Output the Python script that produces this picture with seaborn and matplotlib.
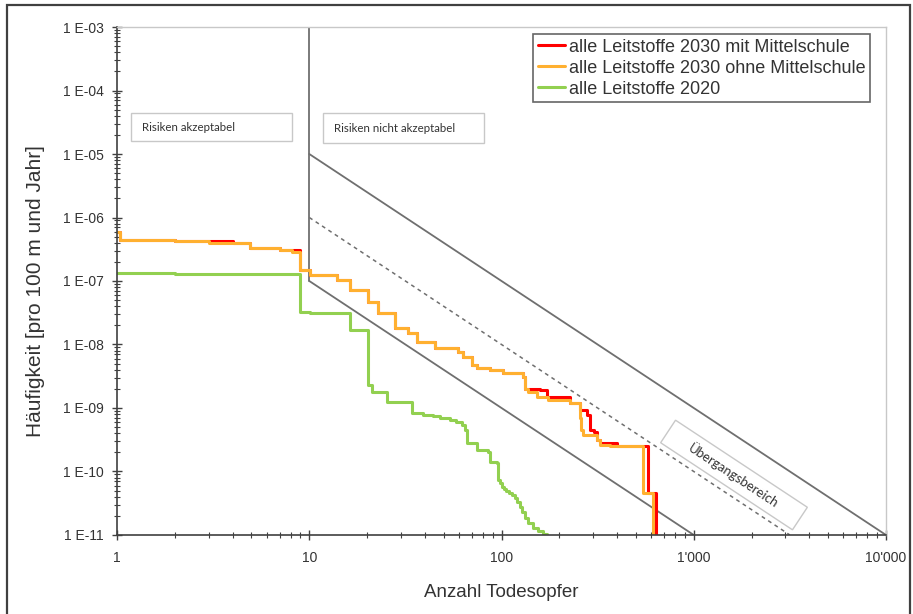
import numpy as np
import seaborn as sns
import matplotlib
matplotlib.use("Agg")
import matplotlib.pyplot as plt
from matplotlib.patches import Rectangle
from matplotlib.transforms import Affine2D
from matplotlib.ticker import LogLocator, NullFormatter

# --- data (steps-post: value holds until next x) ---
RED_X = [1, 1.03, 2.0, 4.0, 4.9, 7.0, 9.0, 10.1, 13.9, 16.3, 20.2, 22.8, 27.9,
         32.6, 36.3, 45.1, 59.4, 63, 70.3, 74.6, 87, 102, 129, 132, 158, 172,
         227, 256, 278, 289, 303, 314, 325, 400, 578, 636]
RED_Y = [6.0e-7, 4.4e-7, 4.2e-7, 3.9e-7, 3.3e-7, 3.1e-7, 1.5e-7, 1.24e-7,
         1.04e-7, 7.2e-8, 4.7e-8, 3.1e-8, 1.82e-8, 1.5e-8, 1.1e-8, 8.8e-9,
         7.6e-9, 6.4e-9, 4.8e-9, 4.3e-9, 4.0e-9, 3.6e-9, 3.1e-9, 2.0e-9,
         1.9e-9, 1.5e-9, 1.2e-9, 9.3e-10, 7.8e-10, 4.5e-10, 4.2e-10, 3.1e-10,
         2.8e-10, 2.5e-10, 4.6e-11, 5e-12]

ORANGE_X = [1, 1.03, 2.0, 3.0, 4.9, 7.0, 8.1, 9.0, 10.1, 13.9, 16.3, 20.2, 22.8,
            27.9, 32.6, 36.3, 45.1, 59.4, 63, 70.3, 74.6, 87, 102, 129, 132,
            137, 153, 175, 227, 256, 260, 265, 314, 325, 367, 545, 614]
ORANGE_Y = [6.0e-7, 4.4e-7, 4.2e-7, 3.9e-7, 3.3e-7, 3.1e-7, 2.9e-7, 1.5e-7,
            1.24e-7, 1.04e-7, 7.2e-8, 4.7e-8, 3.1e-8, 1.82e-8, 1.5e-8, 1.1e-8,
            8.8e-9, 7.6e-9, 6.4e-9, 4.8e-9, 4.3e-9, 4.0e-9, 3.6e-9, 3.1e-9,
            2.0e-9, 1.8e-9, 1.5e-9, 1.35e-9, 1.2e-9, 7.0e-10, 4.5e-10, 3.8e-10,
            3.1e-10, 2.6e-10, 2.5e-10, 4.6e-11, 5e-12]

GREEN_X = [1, 2.0, 3.0, 9.0, 10.1, 16.3, 20.2, 21.1, 25.3, 34.1, 39.1, 44,
           47.9, 54, 58, 62.1, 64.6, 65.9, 74.3, 85.1, 87.2, 94.4, 96.2, 98,
           100, 103, 106, 110, 114, 117.6, 120, 124.8, 128, 132.6, 138, 145.8,
           155, 165, 171.8]
GREEN_Y = [1.35e-7, 1.31e-7, 1.27e-7, 3.29e-8, 3.13e-8, 1.69e-8, 2.3e-9,
           1.8e-9, 1.26e-9, 8.3e-10, 7.8e-10, 7.4e-10, 7.0e-10, 6.4e-10,
           6.0e-10, 5.4e-10, 4.5e-10, 2.8e-10, 2.2e-10, 2.05e-10, 1.43e-10,
           1.35e-10, 7.4e-11, 6.5e-11, 5.8e-11, 5.3e-11, 5.0e-11, 4.6e-11,
           4.2e-11, 3.8e-11, 3.3e-11, 2.8e-11, 2.3e-11, 1.85e-11, 1.55e-11,
           1.3e-11, 1.15e-11, 1.05e-11, 5e-12]

SERIES = ["alle Leitstoffe 2030 mit Mittelschule",
          "alle Leitstoffe 2030 ohne Mittelschule",
          "alle Leitstoffe 2020"]

# limit lines of the F-N diagram
UPPER_X, UPPER_Y = [10, 10000], [1e-5, 1e-11]
MIDDLE_X, MIDDLE_Y = [10, 3162], [1e-6, 1e-11]
LOWER_X, LOWER_Y = [10, 1000], [1e-7, 1e-11]
VERT_X, VERT_Y = [10, 10], [1e-7, 1e-3]

X_TICKS = [1, 10, 100, 1000, 10000]
X_LABELS = ["1", "10", "100", "1'000", "10'000"]
Y_TICKS = [1e-3, 1e-4, 1e-5, 1e-6, 1e-7, 1e-8, 1e-9, 1e-10, 1e-11]
Y_LABELS = ["1 E-03", "1 E-04", "1 E-05", "1 E-06", "1 E-07", "1 E-08",
            "1 E-09", "1 E-10", "1 E-11"]

sns.set_theme(style="white")
plt.rcParams["font.family"] = ["Liberation Sans", "DejaVu Sans"]

fig = plt.figure(figsize=(9.13, 6.14), dpi=100)
ax = fig.add_axes([0.1282, 0.1287, 0.8422, 0.8273])
ax.set_xscale("log")
ax.set_yscale("log")
ax.set_xlim(1, 10000)
ax.set_ylim(1e-11, 1e-3)

gray = "#6f6f6f"
ax.plot(VERT_X, VERT_Y, color=gray, lw=1.3)
ax.plot(UPPER_X, UPPER_Y, color=gray, lw=1.3)
ax.plot(LOWER_X, LOWER_Y, color=gray, lw=1.3)
ax.plot(MIDDLE_X, MIDDLE_Y, color=gray, lw=1.1, ls=(0, (2.5, 2.5)))

colors = ["#ff0000", "#ffb030", "#92d050"]
for xs, ys, lab, col in zip([RED_X, ORANGE_X, GREEN_X],
                            [RED_Y, ORANGE_Y, GREEN_Y], SERIES, colors):
    sns.lineplot(x=xs, y=ys, ax=ax, color=col, label=lab, lw=2.2,
                 drawstyle="steps-post", estimator=None, sort=False)

# axes styling
for side in ["left", "bottom"]:
    ax.spines[side].set_color("#404040")
    ax.spines[side].set_linewidth(1.2)
for side in ["top", "right"]:
    ax.spines[side].set_color("#c8c8c8")
    ax.spines[side].set_linewidth(1.0)

ax.set_xticks(X_TICKS)
ax.set_xticklabels(X_LABELS)
ax.set_yticks(Y_TICKS)
ax.set_yticklabels(Y_LABELS)
ax.xaxis.set_minor_locator(LogLocator(base=10, subs=range(2, 10), numticks=100))
ax.yaxis.set_minor_locator(LogLocator(base=10, subs=range(2, 10), numticks=100))
ax.xaxis.set_minor_formatter(NullFormatter())
ax.yaxis.set_minor_formatter(NullFormatter())
ax.tick_params(which="major", direction="inout", length=7, width=1,
               color="#404040", labelsize=10, labelcolor="#333333",
               left=True, bottom=True)
ax.tick_params(which="minor", direction="inout", length=4, width=0.8,
               color="#404040", left=True, bottom=True)
ax.tick_params(axis="y", pad=6)
ax.tick_params(axis="x", pad=8)

ax.set_xlabel("Anzahl Todesopfer", fontsize=13.5, color="#333333", labelpad=14)
ax.set_ylabel("Häufigkeit [pro 100 m und Jahr]", fontsize=15,
              color="#333333", labelpad=10)
ax.yaxis.set_label_coords(-0.094, 0.48)

leg = ax.legend(loc="upper right", bbox_to_anchor=(0.979, 0.986),
                fontsize=13, frameon=True, fancybox=False,
                handlelength=1.5, handletextpad=0.2, borderpad=0.25,
                labelspacing=0.22, borderaxespad=0)
leg.get_frame().set_edgecolor("#404040")
leg.get_frame().set_linewidth(1.2)
for t in leg.get_texts():
    t.set_color("#333333")

# zone text boxes
box_font = ["Lato", "DejaVu Sans"]
ax.add_patch(Rectangle((0.0182, 0.7756), 0.2094, 0.0551, transform=ax.transAxes,
                       fill=True, fc="white", ec="#c8c8c8", lw=1.0, zorder=3))
ax.text(0.0325, 0.803, "Risiken akzeptabel", transform=ax.transAxes,
        fontsize=8.3, family=box_font, color="#333333", va="center", zorder=4)
ax.add_patch(Rectangle((0.2679, 0.7717), 0.2094, 0.059, transform=ax.transAxes,
                       fill=True, fc="white", ec="#c8c8c8", lw=1.0, zorder=3))
ax.text(0.2822, 0.801, "Risiken nicht akzeptabel", transform=ax.transAxes,
        fontsize=8.3, family=box_font, color="#333333", va="center", zorder=4)

# rotated "Übergangsbereich" box, parallel to the limit lines
p0 = ax.transData.transform((10, 1e-5))
p1 = ax.transData.transform((10000, 1e-11))
angle = np.degrees(np.arctan2(p1[1] - p0[1], p1[0] - p0[0]))
cx, cy = 7.34, 1.39  # inches
rot = Affine2D().rotate_deg(angle).translate(cx, cy) + fig.dpi_scale_trans
fig.add_artist(Rectangle((-0.79, -0.135), 1.58, 0.27, transform=rot,
                         fill=True, fc="white", ec="#c8c8c8", lw=1.0, zorder=3))
fig.text(cx / 9.13, cy / 6.14, "Übergangsbereich", rotation=angle,
         rotation_mode="anchor", ha="center", va="center", fontsize=9.5,
         family=box_font, color="#333333", zorder=4)

# outer chart frame
fig.add_artist(Rectangle((0.008, -0.01), 0.989, 1.002, transform=fig.transFigure,
                         fill=False, ec="#404040", lw=1.6))

fig.savefig("out.png", dpi=100)
